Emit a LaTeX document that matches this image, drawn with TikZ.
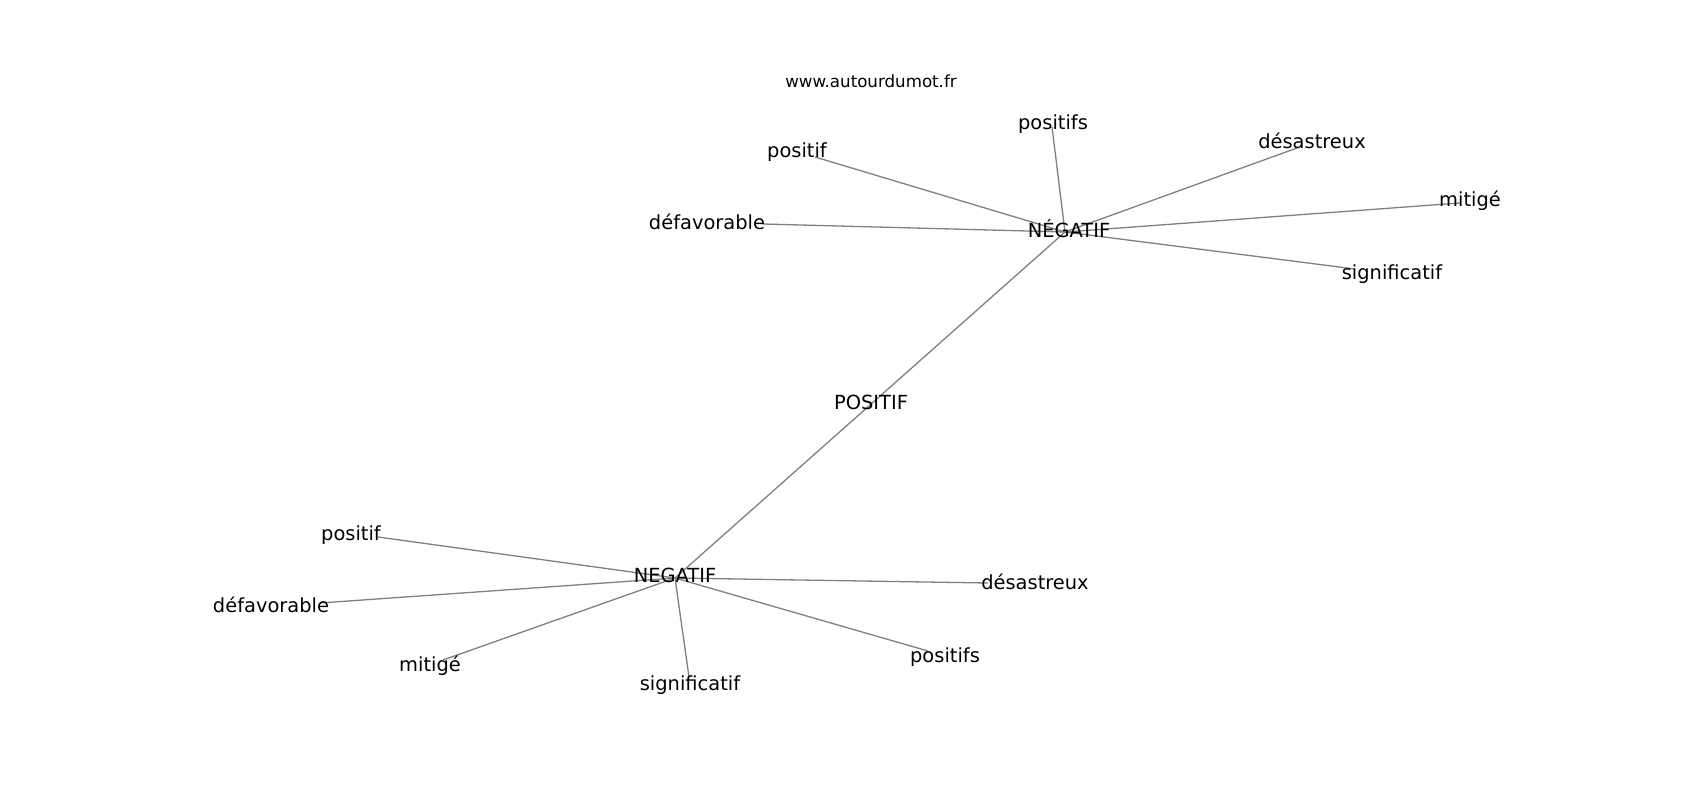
\documentclass[tikz,border=0pt]{standalone}
\usepackage{fontspec}
\setmainfont{DejaVu Sans}
\begin{document}
\begin{tikzpicture}[x=1pt,y=-1pt,
  lbl/.style={font=\fontsize{19.44}{23}\selectfont, inner sep=0pt, text height=14.77pt, text depth=4.04pt, anchor=center},
  url/.style={font=\fontsize{16.67}{20}\selectfont, inner sep=0pt, text height=12.67pt, text depth=3.47pt, anchor=center},
  edge/.style={draw=gray, line width=1.3pt}]
\useasboundingbox (0,0) rectangle (1700,800);
% node points
\coordinate (pPOS) at (870,405);
\coordinate (pNEGa) at (1065,232);
\coordinate (pNEGb) at (675,578);
\coordinate (a1) at (1052,127);
\coordinate (a2) at (815,157);
\coordinate (a3) at (763,224);
\coordinate (a4) at (1297,148);
\coordinate (a5) at (1460,203);
\coordinate (a6) at (1355,269);
\coordinate (b1) at (378,537);
\coordinate (b2) at (320,603);
\coordinate (b3) at (443,660);
\coordinate (b4) at (689,677);
\coordinate (b5) at (928,651);
\coordinate (b6) at (988,583);
% edges
\draw[edge] (pPOS) -- (pNEGa);
\draw[edge] (pPOS) -- (pNEGb);
\foreach \t in {a1,a2,a3,a4,a5,a6} \draw[edge] (pNEGa) -- (\t);
\foreach \t in {b1,b2,b3,b4,b5,b6} \draw[edge] (pNEGb) -- (\t);
% labels
\node[url] (www) at (871,83.4) {www.autourdumot.fr};
\node[lbl] (POS) at (871,404.6) {POSITIF};
\node[lbl] (NEGa) at (1069,232.6) {NÉGATIF};
\node[lbl] (NEGb) at (675,577) {NEGATIF};
\node[lbl] (la1) at (1053,124.5) {positifs};
\node[lbl] (la2) at (797,152) {positif};
\node[lbl] (la3) at (707,224) {défavorable};
\node[lbl] (la4) at (1312,143.5) {désastreux};
\node[lbl] (la5) at (1470,201.5) {mitigé};
\node[lbl] (la6) at (1392,274.5) {significatif};
\node[lbl] (lb1) at (351,535) {positif};
\node[lbl] (lb2) at (271,607.6) {défavorable};
\node[lbl] (lb3) at (430,666) {mitigé};
\node[lbl] (lb4) at (690,685.5) {significatif};
\node[lbl] (lb5) at (945,657) {positifs};
\node[lbl] (lb6) at (1035,584.6) {désastreux};
\end{tikzpicture}
\end{document}
